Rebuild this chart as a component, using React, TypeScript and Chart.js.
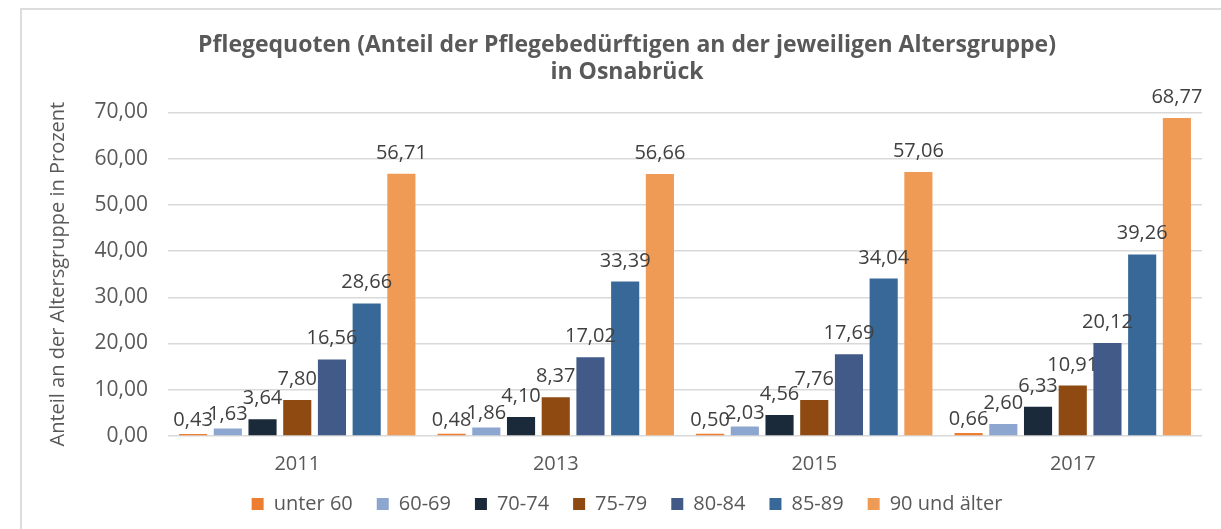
import React, { useEffect, useRef } from "react";
import { Chart, registerables } from "chart.js";

Chart.register(...registerables);

const categories = ["2011", "2013", "2015", "2017"];
const seriesNames = ["unter 60", "60-69", "70-74", "75-79", "80-84", "85-89", "90 und älter"];
const unter60 = [0.43, 0.48, 0.5, 0.66];
const s6069 = [1.63, 1.86, 2.03, 2.6];
const s7074 = [3.64, 4.1, 4.56, 6.33];
const s7579 = [7.8, 8.37, 7.76, 10.91];
const s8084 = [16.56, 17.02, 17.69, 20.12];
const s8589 = [28.66, 33.39, 34.04, 39.26];
const s90 = [56.71, 56.66, 57.06, 68.77];
const seriesValues = [unter60, s6069, s7074, s7579, s8084, s8589, s90];
const colors = ["#ED7D31", "#8DA6D0", "#1B2A3A", "#8E4A10", "#415A87", "#386897", "#EF9B55"];
const titleLines = ["Pflegequoten (Anteil der Pflegebedürftigen an der jeweiligen Altersgruppe)", "in Osnabrück"];
const yAxisTitle = "Anteil an der Altersgruppe in Prozent";

const FONT = "'Open Sans', 'Noto Sans', sans-serif";
const fmt = (v: number) => v.toFixed(2).replace(".", ",");

const valueLabels = {
  id: "valueLabels",
  afterDatasetsDraw(chart: any) {
    const ctx = chart.ctx;
    const zeroY = chart.scales.y.getPixelForValue(0);
    ctx.save();
    ctx.font = `20px ${FONT}`;
    ctx.fillStyle = "#404040";
    ctx.textAlign = "center";
    ctx.textBaseline = "alphabetic";
    chart.data.datasets.forEach((ds: any, di: number) => {
      const meta = chart.getDatasetMeta(di);
      meta.data.forEach((el: any, i: number) => {
        const v = ds.data[i] as number;
        const gap = v < 2.5 ? 8 : 15;
        ctx.fillText(fmt(v), el.x, Math.min(el.y, zeroY) - gap);
      });
    });
    ctx.restore();
  },
};

const legendShift = {
  id: "legendShift",
  afterLayout(chart: any) {
    const l = chart.legend;
    if (l) {
      l.top -= 5;
      l.bottom -= 5;
    }
  },
};

export default function App() {
  const ref = useRef<HTMLCanvasElement>(null);
  useEffect(() => {
    if (!ref.current) return;
    const chart = new Chart(ref.current, {
      type: "bar",
      data: {
        labels: categories,
        datasets: seriesNames.map((name, i) => ({
          label: name,
          data: seriesValues[i],
          backgroundColor: colors[i],
          borderWidth: 0,
          categoryPercentage: 0.94,
          barPercentage: 0.81,
        })),
      },
      options: {
        animation: false,
        responsive: false,
        maintainAspectRatio: false,
        layout: { padding: { left: 34, right: 1, top: 20, bottom: 0 } },
        plugins: {
          title: {
            display: true,
            text: titleLines,
            color: "#595959",
            font: { family: FONT, size: 23, weight: "bold", lineHeight: 1.18 },
            padding: { top: 12, bottom: 26 },
          },
          legend: {
            position: "bottom",
            labels: {
              boxWidth: 12,
              boxHeight: 12,
              padding: 24,
              color: "#595959",
              font: { family: FONT, size: 20 },
            },
          },
          tooltip: { enabled: false },
        },
        scales: {
          x: {
            grid: { display: false },
            border: { display: false },
            afterFit: (s: any) => {
              s.height = 39;
            },
            ticks: { color: "#595959", font: { family: FONT, size: 20 }, padding: 8 },
          },
          y: {
            min: 0,
            max: 70,
            afterFit: (s: any) => {
              s.width = 134;
            },
            grid: { color: "#d9d9d9", lineWidth: 1.5, drawTicks: false },
            border: { display: false },
            ticks: {
              stepSize: 10,
              padding: 20,
              color: "#595959",
              font: { family: FONT, size: 21 },
              callback: (v: any) => fmt(Number(v)),
            },
            title: {
              display: true,
              text: yAxisTitle,
              color: "#595959",
              font: { family: FONT, size: 20, lineHeight: 1.2 },
              padding: { top: 12, bottom: 0 },
            },
          },
          y2: {
            position: "right",
            min: 0,
            max: 70,
            afterFit: (s: any) => {
              s.width = 18;
            },
            grid: { display: false },
            border: { display: false },
            ticks: { display: false },
          },
        },
      },
      plugins: [valueLabels, legendShift],
    });
    return () => chart.destroy();
  }, []);
  return (
    <div style={{ position: "absolute", left: 0, top: 0, width: 1221, height: 529, background: "#fff", overflow: "hidden" }}>
      <div
        style={{
          position: "absolute",
          left: 20,
          top: 8,
          right: 0,
          bottom: 0,
          borderLeft: "2px solid #dcdcdc",
          borderTop: "2px solid #dcdcdc",
        }}
      />
      <canvas ref={ref} width={1221} height={529} style={{ position: "absolute", left: 0, top: 0 }} />
    </div>
  );
}
